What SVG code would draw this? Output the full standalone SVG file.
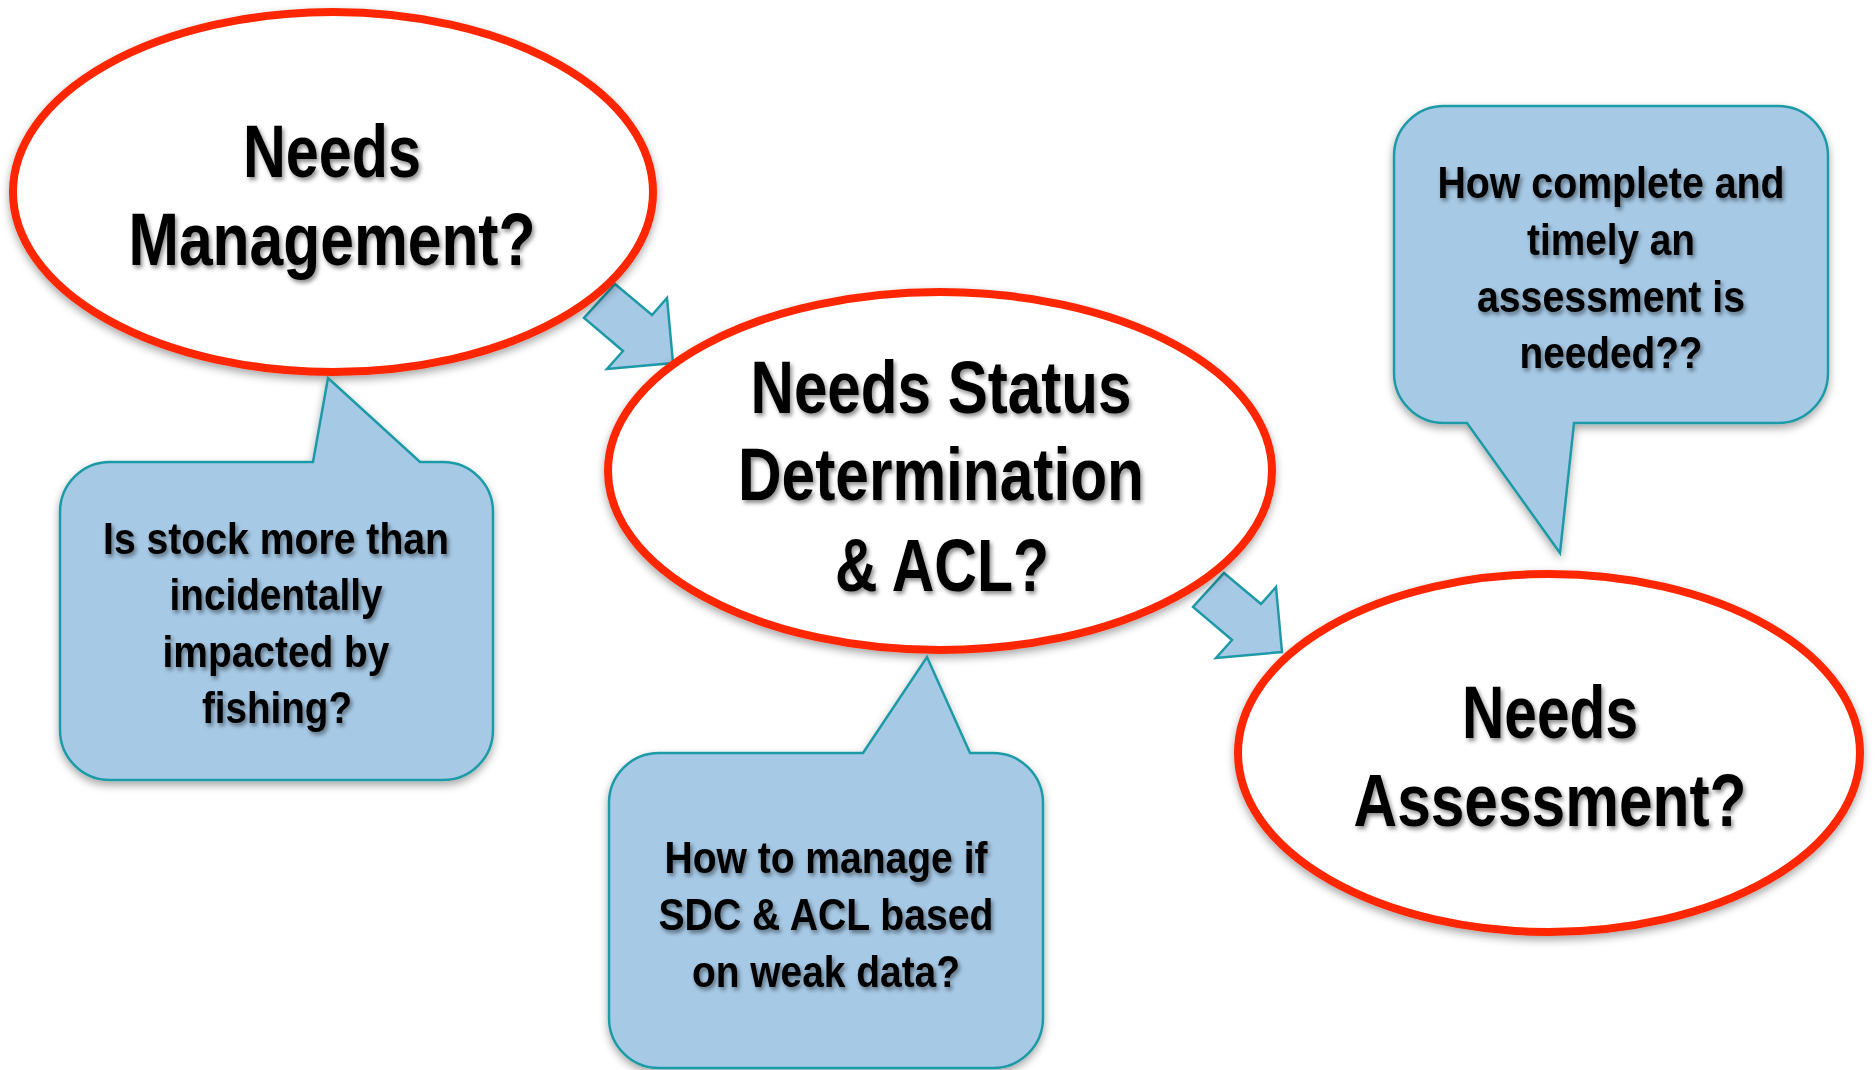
<svg xmlns="http://www.w3.org/2000/svg" width="1876" height="1070" viewBox="0 0 1876 1070">
  <defs>
    <filter id="shapeShadow" x="-10%" y="-10%" width="120%" height="125%">
      <feDropShadow dx="0" dy="4" stdDeviation="4" flood-color="#000" flood-opacity="0.35"/>
    </filter>
    <filter id="textShadow" x="-5%" y="-20%" width="110%" height="150%">
      <feDropShadow dx="2" dy="3" stdDeviation="2" flood-color="#000" flood-opacity="0.45"/>
    </filter>
  </defs>
  <style>
    .bubble { fill: #ffffff; stroke: #ff2600; stroke-width: 8; filter: url(#shapeShadow); }
    .callout { fill: #a6c9e6; stroke: #1e9aa6; stroke-width: 2.5; stroke-linejoin: miter; filter: url(#shapeShadow); }
    .flow { fill: #a6c9e6; stroke: #1e9aa6; stroke-width: 2.5; stroke-linejoin: miter; }
    .big { font-family: "Liberation Sans Narrow", "Liberation Sans", Arial, sans-serif; font-weight: bold; font-size: 74px; fill: #000; text-anchor: middle; filter: url(#textShadow); }
    .small { font-family: "Liberation Sans Narrow", "Liberation Sans", Arial, sans-serif; font-weight: bold; font-size: 45px; fill: #000; text-anchor: middle; filter: url(#textShadow); }
  </style>
  <rect width="1876" height="1070" fill="#ffffff"/>

  <!-- block arrows between the stages -->
  <g id="connectors">
    <path class="flow" d="M615,284 L652,315 L667,298 L673,363 L607,369 L623,351 L584,318 Z"/>
    <path class="flow" d="M1224,573 L1261,604 L1276,587 L1282,652 L1216,658 L1232,640 L1193,607 Z"/>
  </g>

  <!-- stage: management -->
  <g id="needs-management">
    <ellipse class="bubble" cx="333" cy="192" rx="320" ry="180"/>
    <text class="big" x="332" y="177" textLength="178" lengthAdjust="spacingAndGlyphs">Needs</text>
    <text class="big" x="332" y="265" textLength="407" lengthAdjust="spacingAndGlyphs">Management?</text>
  </g>

  <!-- stage: status determination -->
  <g id="needs-status">
    <ellipse class="bubble" cx="940" cy="471" rx="332" ry="179"/>
    <text class="big" x="941" y="413" textLength="381" lengthAdjust="spacingAndGlyphs">Needs Status</text>
    <text class="big" x="941" y="500" textLength="406" lengthAdjust="spacingAndGlyphs">Determination</text>
    <text class="big" x="942" y="591" textLength="214" lengthAdjust="spacingAndGlyphs">&amp; ACL?</text>
  </g>

  <!-- stage: assessment -->
  <g id="needs-assessment">
    <ellipse class="bubble" cx="1549" cy="753" rx="311" ry="179"/>
    <text class="big" x="1550" y="738" textLength="176" lengthAdjust="spacingAndGlyphs">Needs</text>
    <text class="big" x="1550" y="826" textLength="393" lengthAdjust="spacingAndGlyphs">Assessment?</text>
  </g>

  <!-- question callouts -->
  <g id="callout-fishing">
    <path class="callout" d="M110,462 L313,462 L328,378 L420,462 L443,462 A50,50 0 0 1 493,512 L493,730 A50,50 0 0 1 443,780 L110,780 A50,50 0 0 1 60,730 L60,512 A50,50 0 0 1 110,462 Z"/>
    <text class="small" x="276" y="554" textLength="346" lengthAdjust="spacingAndGlyphs">Is stock more than</text>
    <text class="small" x="276" y="610" textLength="213" lengthAdjust="spacingAndGlyphs">incidentally</text>
    <text class="small" x="276" y="667" textLength="227" lengthAdjust="spacingAndGlyphs">impacted by</text>
    <text class="small" x="277" y="723" textLength="150" lengthAdjust="spacingAndGlyphs">fishing?</text>
  </g>

  <g id="callout-weak-data">
    <path class="callout" d="M659,753 L863,753 L927,657 L970,753 L993,753 A50,50 0 0 1 1043,803 L1043,1018 A50,50 0 0 1 993,1068 L659,1068 A50,50 0 0 1 609,1018 L609,803 A50,50 0 0 1 659,753 Z"/>
    <text class="small" x="826" y="873" textLength="323" lengthAdjust="spacingAndGlyphs">How to manage if</text>
    <text class="small" x="826" y="930" textLength="335" lengthAdjust="spacingAndGlyphs">SDC &amp; ACL based</text>
    <text class="small" x="826" y="987" textLength="268" lengthAdjust="spacingAndGlyphs">on weak data?</text>
  </g>

  <g id="callout-timely">
    <path class="callout" d="M1444,106 L1778,106 A50,50 0 0 1 1828,156 L1828,373 A50,50 0 0 1 1778,423 L1574,423 L1560,553 L1467,423 L1444,423 A50,50 0 0 1 1394,373 L1394,156 A50,50 0 0 1 1444,106 Z"/>
    <text class="small" x="1611" y="198" textLength="347" lengthAdjust="spacingAndGlyphs">How complete and</text>
    <text class="small" x="1611" y="255" textLength="168" lengthAdjust="spacingAndGlyphs">timely an</text>
    <text class="small" x="1611" y="312" textLength="268" lengthAdjust="spacingAndGlyphs">assessment is</text>
    <text class="small" x="1611" y="368" textLength="183" lengthAdjust="spacingAndGlyphs">needed??</text>
  </g>
</svg>
